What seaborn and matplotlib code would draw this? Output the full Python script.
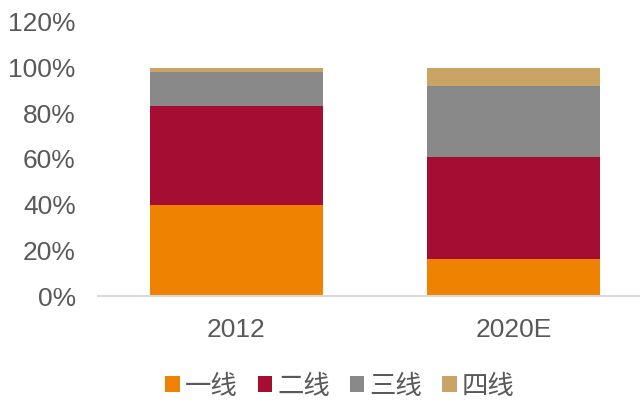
import matplotlib
matplotlib.use("Agg")
import matplotlib.pyplot as plt
import seaborn as sns
import numpy as np
import pandas as pd
from matplotlib.patches import Patch

categories = ["2012", "2020E"]
series_names = ["一线", "二线", "三线", "四线"]
tier1 = [40, 16]
tier2 = [43, 45]
tier3 = [15, 31]
tier4 = [2, 8]
yticks = [0, 20, 40, 60, 80, 100, 120]
colors = ["#EF8200", "#A50D32", "#898989", "#C9A465"]

sns.set_theme(style="white")
plt.rcParams['font.family'] = ['Liberation Sans', 'Noto Sans CJK SC', 'DejaVu Sans']

fig = plt.figure(figsize=(6.4, 4.08), dpi=100)
W, H = 640, 408
left, right = 98, 652
bottom, top = 296, 21.8
ax = fig.add_axes([left / W, (H - bottom) / H, (right - left) / W, (bottom - top) / H])

values = [tier1, tier2, tier3, tier4]
cum = np.cumsum(np.array(values), axis=0)
for i in range(len(values) - 1, -1, -1):
    df = pd.DataFrame({"cat": categories, "val": cum[i]})
    sns.barplot(data=df, x="cat", y="val", color=colors[i], width=0.623,
                saturation=1, ax=ax, edgecolor="none", linewidth=0)

ax.set_xlim(-0.5, 1.5)
ax.set_ylim(0, 120)
ax.set_yticks(yticks)
ax.set_yticklabels([f"{v}%" for v in yticks])
ax.set_xlabel("")
ax.set_ylabel("")
for s in ["top", "right", "left"]:
    ax.spines[s].set_visible(False)
ax.spines["bottom"].set_color("#D9D9D9")
ax.spines["bottom"].set_linewidth(1.5)
ax.tick_params(axis="y", length=0, pad=16, labelsize=19, labelcolor="#595959")
ax.tick_params(axis="x", length=0, pad=16, labelsize=19, labelcolor="#595959")

handles = [Patch(facecolor=c, edgecolor="none") for c in colors]
fig.legend(handles, series_names, loc="center", bbox_to_anchor=(340 / W, 22 / H),
           ncol=4, frameon=False, handlelength=0.55, handleheight=0.55,
           handletextpad=0.2, columnspacing=0.75,
           prop={"family": ["Noto Sans CJK SC", "DejaVu Sans"], "size": 19},
           labelcolor="#595959")

fig.savefig("out.png", dpi=100)
